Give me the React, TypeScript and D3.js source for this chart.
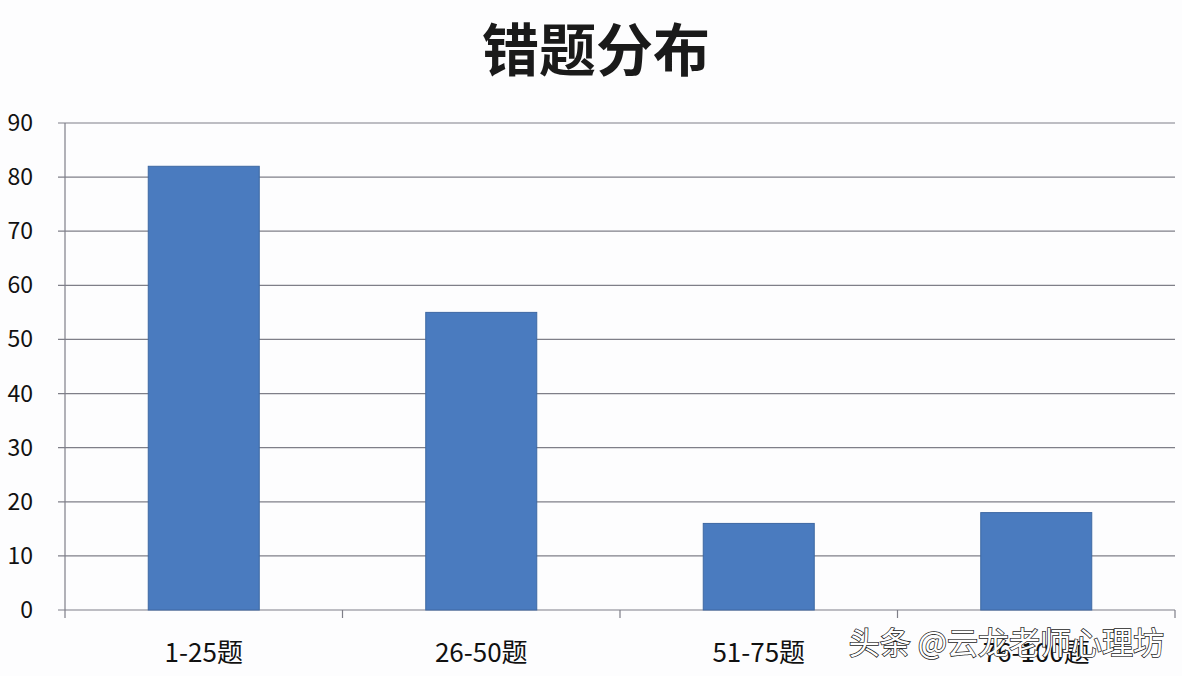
import React from 'react';
import * as d3 from 'd3';

const categories = ['1-25题', '26-50题', '51-75题', '76-100题'];
const values = [82, 55, 16, 18];
const yTicks = [0, 10, 20, 30, 40, 50, 60, 70, 80, 90];
const title = '错题分布';
const watermark = '头条 @云龙老师心理坊';

const W = 1182;
const H = 676;

export default function App() {
  const x = d3.scaleBand<string>().domain(categories).range([65, 1175]).paddingInner(0).paddingOuter(0);
  const y = d3.scaleLinear().domain([0, 90]).range([610, 123]);
  const bw = x.bandwidth() * 0.4;
  const grid = '#7f7f88';
  const font = '"Noto Sans CJK SC", "Open Sans", sans-serif';

  const bounds = [...categories.map(c => x(c) as number), 1175];

  return (
    <svg width={W} height={H} style={{ position: 'absolute', left: 0, top: 0, background: '#fdfdfe' }}>
      <rect width={W} height={H} fill="#fdfdfe" />
      <text x={596} y={71} textAnchor="middle" fontFamily={font} fontWeight={700} fontSize={57} fill="#1a1a1a">
        {title}
      </text>
      {yTicks.map(t => (
        <g key={t}>
          <line x1={58} x2={1175} y1={y(t)} y2={y(t)} stroke={grid} strokeWidth={1.2} />
          <text x={33} y={y(t) + 8} textAnchor="end" fontFamily={font} fontSize={23} fill="#111">
            {t}
          </text>
        </g>
      ))}
      <line x1={65} x2={65} y1={y(90)} y2={y(0)} stroke={grid} strokeWidth={1.2} />
      {bounds.map((b, i) => (
        <line key={i} x1={b} x2={b} y1={y(0)} y2={y(0) + 8} stroke={grid} strokeWidth={1.2} />
      ))}
      {categories.map((c, i) => {
        const cx = (x(c) as number) + x.bandwidth() / 2;
        return (
          <g key={c}>
            <rect
              x={cx - bw / 2}
              y={y(values[i])}
              width={bw}
              height={y(0) - y(values[i])}
              fill="#4a7bbf"
              stroke="#3e68a3"
              strokeWidth={1}
            />
            <text x={cx} y={662} textAnchor="middle" fontFamily={font} fontSize={26} fill="#111">
              {c}
            </text>
          </g>
        );
      })}
      <text
        x={1164}
        y={654}
        textAnchor="end"
        fontFamily={font}
        fontSize={31}
        fill="#ffffff"
        stroke="#222"
        strokeWidth={1.5}
        paintOrder="stroke"
      >
        {watermark}
      </text>
    </svg>
  );
}
